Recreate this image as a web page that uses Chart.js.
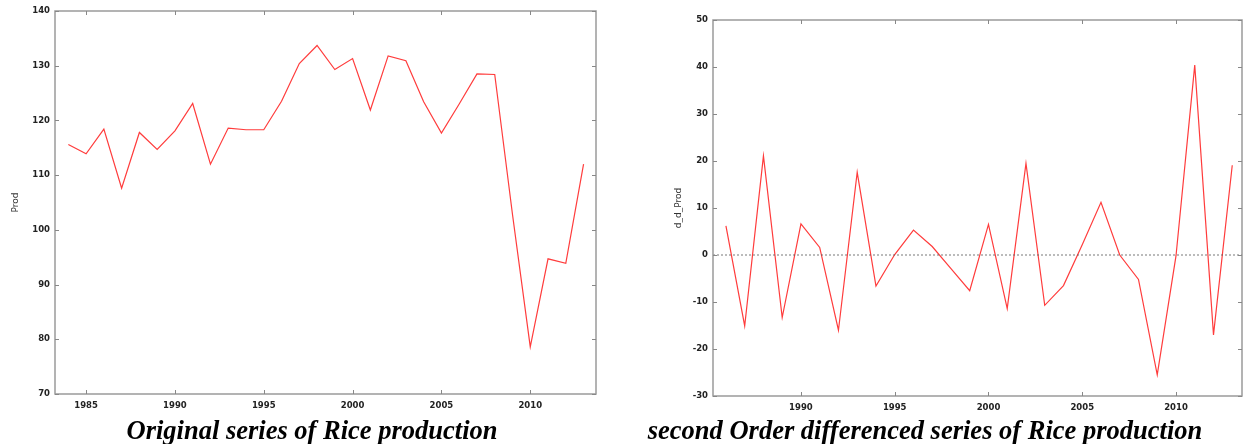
<!DOCTYPE html>
<html>
<head>
<meta charset="utf-8">
<script src="https://cdn.jsdelivr.net/npm/chart.js@4/dist/chart.umd.min.js"></script>
<style>
  html, body { margin: 0; padding: 0; background: #fff; width: 1243px; height: 444px; overflow: hidden; }
  .wrap { position: absolute; }
  .ttl { position: absolute; font-family: "Liberation Serif", "DejaVu Serif", serif; font-weight: bold; font-style: italic;
         font-size: 26.5px; line-height: 28px; color: #000; white-space: nowrap; transform: translateX(-50%); }
</style>
</head>
<body>
<div class="wrap" style="left:0;top:0;width:600px;height:420px"><canvas id="c1"></canvas></div>
<div class="wrap" style="left:660px;top:0;width:583px;height:420px"><canvas id="c2"></canvas></div>
<div class="ttl" style="left:312px;top:416px">Original series of Rice production</div>
<div class="ttl" style="left:925px;top:416px">second Order differenced series of Rice production</div>
<script>
// ---- data ----
const yearsOrig = [1984,1985,1986,1987,1988,1989,1990,1991,1992,1993,1994,1995,1996,1997,1998,1999,2000,2001,2002,2003,2004,2005,2006,2007,2008,2009,2010,2011,2012,2013];
const prod = [115.6,113.9,118.4,107.6,117.8,114.7,118.1,123.1,112.0,118.6,118.3,118.3,123.5,130.4,133.7,129.3,131.3,121.9,131.8,130.9,123.4,117.7,123.0,128.5,128.4,102.8,78.6,94.7,93.9,112.0];
const yearsDiff = [1986,1987,1988,1989,1990,1991,1992,1993,1994,1995,1996,1997,1998,1999,2000,2001,2002,2003,2004,2005,2006,2007,2008,2009,2010,2011,2012,2013];
const ddProd = [6.2,-15.1,21.1,-13.3,6.6,1.6,-16.0,17.6,-6.6,0.1,5.3,1.8,-2.9,-7.6,6.5,-11.4,19.5,-10.7,-6.5,2.2,11.2,0.0,-5.2,-25.5,-0.2,40.4,-17.0,19.1];
const xTicks = [1985,1990,1995,2000,2005,2010];
const yTicksOrig = [70,80,90,100,110,120,130,140];
const yTicksDiff = [-30,-20,-10,0,10,20,30,40,50];

const tickFont = { family: "DejaVu Sans", size: 8.5, weight: "bold" };
const tickColor = "#222";
const boxColor = "#9a9a9a";

// box + inward ticks + optional zero line
const framePlugin = {
  id: 'frame',
  afterDatasetsDraw(chart, args, opts) {
    const ctx = chart.ctx, a = chart.chartArea;
    const xs = chart.scales.x, ys = chart.scales.y;
    ctx.save();
    if (opts.zero) {
      const y0 = ys.getPixelForValue(0);
      ctx.strokeStyle = "#555";
      ctx.lineWidth = 0.8;
      ctx.setLineDash([2, 2]);
      ctx.beginPath(); ctx.moveTo(a.left, y0); ctx.lineTo(a.right, y0); ctx.stroke();
      ctx.setLineDash([]);
    }
    ctx.strokeStyle = boxColor;
    ctx.lineWidth = 1.5;
    ctx.strokeRect(a.left, a.top, a.right - a.left, a.bottom - a.top);
    ctx.lineWidth = 1;
    ctx.strokeStyle = "#888";
    const L = 4;
    ctx.beginPath();
    xs.ticks.forEach(t => {
      const x = Math.round(xs.getPixelForValue(t.value)) + 0.5;
      ctx.moveTo(x, a.top); ctx.lineTo(x, a.top + L);
      ctx.moveTo(x, a.bottom); ctx.lineTo(x, a.bottom - L);
    });
    ys.ticks.forEach(t => {
      const y = Math.round(ys.getPixelForValue(t.value)) + 0.5;
      ctx.moveTo(a.left, y); ctx.lineTo(a.left + L, y);
      ctx.moveTo(a.right, y); ctx.lineTo(a.right - L, y);
    });
    ctx.stroke();
    ctx.restore();
  }
};

function makeChart(id, years, vals, cfg) {
  return new Chart(document.getElementById(id), {
    type: 'line',
    data: {
      datasets: [{
        data: years.map((yr, i) => ({ x: yr, y: vals[i] })),
        borderColor: 'rgb(255,60,60)',
        borderWidth: 1.2,
        pointRadius: 0,
        tension: 0,
        fill: false
      }]
    },
    options: {
      responsive: true,
      maintainAspectRatio: false,
      animation: false,
      events: [],
      layout: { padding: cfg.padding },
      plugins: { legend: { display: false }, tooltip: { enabled: false }, frame: { zero: cfg.zero } },
      scales: {
        x: {
          type: 'linear',
          min: cfg.xMin, max: cfg.xMax,
          afterBuildTicks: s => { s.ticks = xTicks.filter(v => v >= cfg.xMin && v <= cfg.xMax).map(v => ({ value: v })); },
          afterFit: s => { s.height = cfg.xH; },
          grid: { display: false, drawTicks: false },
          border: { display: false },
          ticks: { font: tickFont, color: tickColor, padding: 7, maxRotation: 0, autoSkip: false,
                   callback: v => String(v) }
        },
        y: {
          type: 'linear',
          min: cfg.yMin, max: cfg.yMax,
          afterBuildTicks: s => { s.ticks = cfg.yTicks.map(v => ({ value: v })); },
          afterFit: s => { s.width = cfg.yW; },
          grid: { display: false, drawTicks: false },
          border: { display: false },
          title: { display: true, text: cfg.yTitle, color: '#333',
                   font: { family: "DejaVu Sans", size: 9 }, padding: { top: cfg.titlePad, bottom: 0 } },
          ticks: { font: tickFont, color: tickColor, padding: 5, autoSkip: false,
                   callback: v => String(v) }
        }
      }
    },
    plugins: [framePlugin]
  });
}

makeChart('c1', yearsOrig, prod, {
  padding: { left: 0, top: 11, right: 4, bottom: 0 },
  xMin: 1983.25, xMax: 2013.7, yMin: 70, yMax: 140, yTicks: yTicksOrig,
  xH: 26, yW: 55, yTitle: 'Prod', titlePad: 10, zero: false
});
makeChart('c2', yearsDiff, ddProd, {
  padding: { left: 0, top: 20, right: 1, bottom: 0 },
  xMin: 1985.31, xMax: 2013.52, yMin: -30, yMax: 50, yTicks: yTicksDiff,
  xH: 24, yW: 53, yTitle: 'd_d_Prod', titlePad: 13, zero: true
});
</script>
</body>
</html>
